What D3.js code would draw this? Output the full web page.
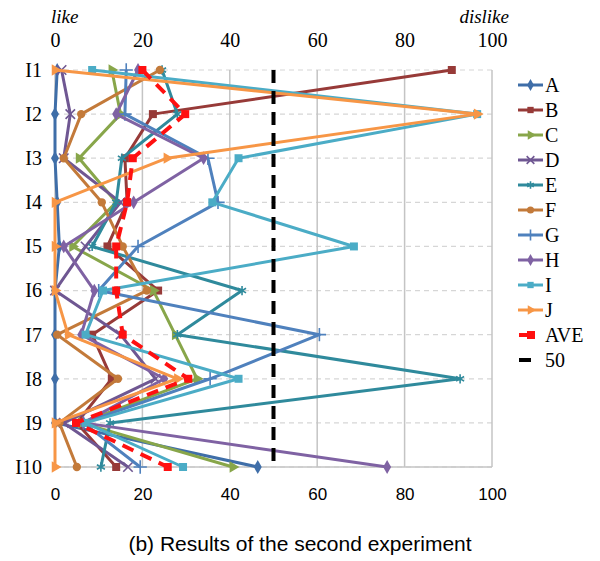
<!DOCTYPE html>
<html>
<head>
<meta charset="utf-8">
<script src="https://cdn.jsdelivr.net/npm/d3@7"></script>
<style>
  body { margin: 0; background: #fff; }
  svg { display: block; }
  .serif { font-family: "Liberation Serif", "Times New Roman", serif; }
  .sans { font-family: "Liberation Sans", Arial, sans-serif; }
</style>
</head>
<body>
<div id="chart"></div>
<script>
// categories and series
var cats = ["I1", "I2", "I3", "I4", "I5", "I6", "I7", "I8", "I9", "I10"];
var ticks = [0, 20, 40, 60, 80, 100];

var A   = [0.5, 0, 0, 0.5, 1, 0, 0, 0, 0, 46.4];
var B   = [90.8, 22.4, 16, 16.5, 12, 23.6, 8.5, 13, 5, 14];
var C   = [13, 15, 5.5, 14, 4, 22.5, 27.5, 32.5, 6, 40.7];
var D   = [1.5, 3.5, 2, 15, 7, 0, 15, 23, 2, 16.7];
var E   = [24.5, 28, 15.3, 14, 8.5, 42.8, 28, 92.7, 12.6, 10.5];
var F   = [24, 6, 2, 10.7, 15.5, 21, 0.5, 14.4, 1, 5];
var G   = [16.3, 16, 35, 37.3, 19, 10, 60.5, 35.5, 6.5, 19.5];
var H   = [19, 14, 34, 18, 2, 9, 6, 25, 6.5, 76];
var I   = [8.5, 96.6, 42, 36, 68.4, 11, 7, 42, 7, 29.3];
var J   = [0, 96.6, 25.6, 0, 0, 0, 3, 28, 0, 0];
var AVE = [20, 29.8, 17.8, 16.5, 14, 14, 15.5, 30.5, 4.8, 25.8];
var REF = [50, 50, 50, 50, 50, 50, 50, 50, 50, 50];

var seriesNames = ["A", "B", "C", "D", "E", "F", "G", "H", "I", "J", "AVE", "50"];
var seriesValues = [A, B, C, D, E, F, G, H, I, J, AVE, REF];

var colors = {
    A: "#3f6ea8", B: "#973a38", C: "#88a64a", D: "#6f5792", E: "#2f8a9c",
    F: "#c37a3a", G: "#4f81bd", H: "#7f62a3", I: "#4bacc6", J: "#f79646",
    AVE: "#ff1010", "50": "#000000"
};
var markers = {
    A: "diamond", B: "square", C: "triangle", D: "x", E: "asterisk",
    F: "circle", G: "plus", H: "diamond", I: "square", J: "triangle",
    AVE: "square", "50": "none"
};

var width = 600, height = 561;
var svg = d3.select("#chart").append("svg")
    .attr("width", width)
    .attr("height", height);

var x = d3.scaleLinear().domain([0, 100]).range([55, 492]);
var y = d3.scalePoint().domain(cats).range([70, 467]);

// horizontal dashed grid
svg.append("g").selectAll("line").data(cats).enter().append("line")
    .attr("x1", x(0)).attr("x2", x(100))
    .attr("y1", function(d) { return y(d); })
    .attr("y2", function(d) { return y(d); })
    .attr("stroke", "#d6d6d6")
    .attr("stroke-width", 1.2)
    .attr("stroke-dasharray", "5,4");

// vertical grid
svg.append("g").selectAll("line").data(ticks.slice(1)).enter().append("line")
    .attr("x1", function(d) { return x(d); })
    .attr("x2", function(d) { return x(d); })
    .attr("y1", y("I1")).attr("y2", y("I10"))
    .attr("stroke", "#c4c4c4")
    .attr("stroke-width", 1.5);

// left and bottom frame
svg.append("line")
    .attr("x1", x(0)).attr("x2", x(0)).attr("y1", y("I1")).attr("y2", y("I10"))
    .attr("stroke", "#c4c4c4").attr("stroke-width", 1.5);
svg.append("line")
    .attr("x1", x(0)).attr("x2", x(100)).attr("y1", y("I10")).attr("y2", y("I10"))
    .attr("stroke", "#c4c4c4").attr("stroke-width", 1.5);

// axes (d3 sets font-family on the group, so override on the group)
var bottomAxis = svg.append("g")
    .attr("transform", "translate(0," + y("I10") + ")")
    .call(d3.axisBottom(x).tickValues(ticks).tickSize(0).tickPadding(21));
bottomAxis.attr("font-family", null).attr("font-size", null).attr("class", "sans");
bottomAxis.select(".domain").remove();
bottomAxis.selectAll("text")
    .style("font-size", "17px")
    .attr("fill", "#000");

var topAxis = svg.append("g")
    .attr("transform", "translate(0," + y("I1") + ")")
    .call(d3.axisTop(x).tickValues(ticks).tickSize(0).tickPadding(23));
topAxis.attr("font-family", null).attr("font-size", null).attr("class", "serif");
topAxis.select(".domain").remove();
topAxis.selectAll("text")
    .style("font-size", "20px")
    .attr("fill", "#000");

var leftAxis = svg.append("g")
    .attr("transform", "translate(" + x(0) + ",0)")
    .call(d3.axisLeft(y).tickSize(0).tickPadding(13));
leftAxis.attr("font-family", null).attr("font-size", null).attr("class", "serif");
leftAxis.select(".domain").remove();
leftAxis.selectAll("text")
    .style("font-size", "20px")
    .attr("fill", "#000");

svg.append("text")
    .attr("class", "serif")
    .attr("x", x(0) - 4).attr("y", 23)
    .style("font-style", "italic")
    .style("font-size", "19px")
    .text("like");
svg.append("text")
    .attr("class", "serif")
    .attr("x", x(100) + 17).attr("y", 23)
    .attr("text-anchor", "end")
    .style("font-style", "italic")
    .style("font-size", "19px")
    .text("dislike");

function symbolFor(kind, size) {
    var t = {
        diamond: d3.symbolDiamond, square: d3.symbolSquare, triangle: d3.symbolTriangle,
        circle: d3.symbolCircle, x: d3.symbolX, plus: d3.symbolPlus, asterisk: d3.symbolAsterisk
    }[kind];
    return d3.symbol().type(t).size(size)();
}
var strokeOnly = { x: true, plus: true, asterisk: true };

function drawMarker(g, name, cx, cy, size) {
    var kind = markers[name];
    if (kind === "none") return;
    var p = g.append("path")
        .attr("d", symbolFor(kind, size))
        .attr("transform", "translate(" + cx + "," + cy + ")" + (kind === "triangle" ? " rotate(90)" : ""));
    if (strokeOnly[kind]) {
        p.attr("fill", "none").attr("stroke", colors[name]).attr("stroke-width", 1.6);
    } else {
        p.attr("fill", colors[name]);
    }
}

var line = d3.line()
    .x(function(d) { return x(d.v); })
    .y(function(d) { return y(d.c); });

seriesNames.forEach(function(name, i) {
    var pts = seriesValues[i].map(function(v, j) { return { c: cats[j], v: v }; });
    var g = svg.append("g").attr("class", "series");
    var path = g.append("path")
        .datum(pts)
        .attr("d", line)
        .attr("fill", "none")
        .attr("stroke", colors[name])
        .attr("stroke-width", name === "AVE" || name === "50" ? 4 : 3)
        .attr("stroke-linejoin", "round");
    if (name === "AVE") path.attr("stroke-dasharray", "12,8");
    if (name === "50") path.attr("stroke-dasharray", "13,8");
    pts.forEach(function(p) {
        var s = markers[name] === "square" ? 64 : (strokeOnly[markers[name]] ? 60 : 55);
        drawMarker(g, name, x(p.v), y(p.c), s);
    });
});

// legend
var legend = svg.append("g");
seriesNames.forEach(function(name, i) {
    var ly = 85 + i * 25;
    var lg = legend.append("g");
    if (name === "AVE") {
        lg.append("line").attr("x1", 519).attr("x2", 527).attr("y1", ly).attr("y2", ly)
            .attr("stroke", colors[name]).attr("stroke-width", 4);
        drawMarker(lg, name, 531, ly, 64);
    } else if (name === "50") {
        lg.append("line").attr("x1", 519).attr("x2", 531).attr("y1", ly).attr("y2", ly)
            .attr("stroke", colors[name]).attr("stroke-width", 4);
    } else {
        lg.append("line").attr("x1", 518).attr("x2", 543).attr("y1", ly).attr("y2", ly)
            .attr("stroke", colors[name]).attr("stroke-width", 3);
        drawMarker(lg, name, 530.5, ly, 40);
    }
    lg.append("text")
        .attr("class", "serif")
        .attr("x", 545)
        .attr("y", ly + 7)
        .style("font-size", "20px")
        .text(name);
});

svg.append("text")
    .attr("class", "sans")
    .attr("x", 300).attr("y", 551)
    .attr("text-anchor", "middle")
    .style("font-size", "21px")
    .text("(b) Results of the second experiment");
</script>
</body>
</html>
